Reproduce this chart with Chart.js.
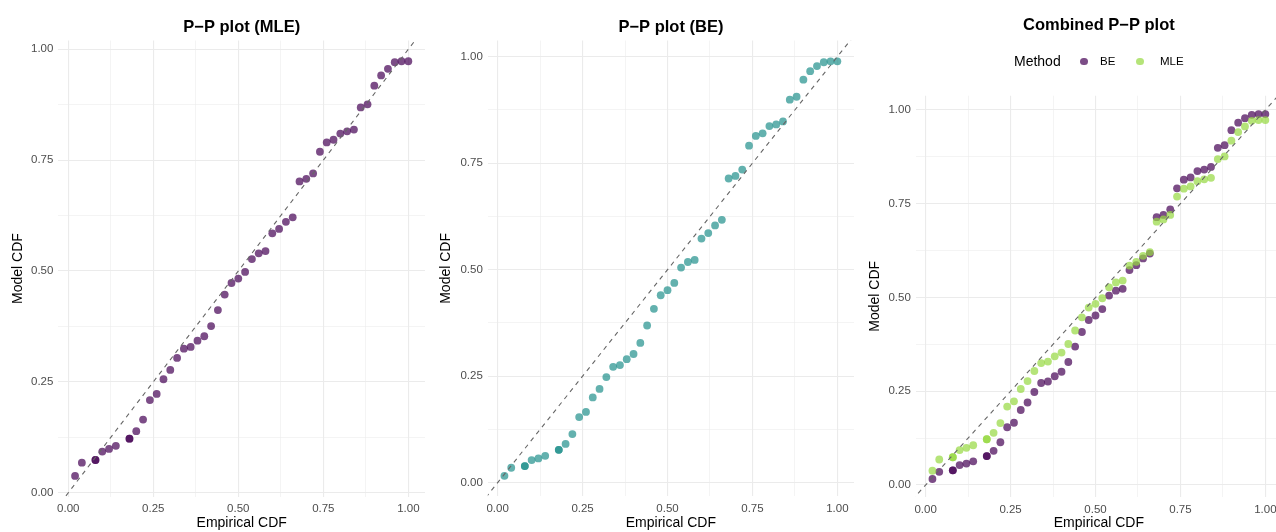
<!DOCTYPE html>
<html>
<head>
<meta charset="utf-8">
<script src="https://cdn.jsdelivr.net/npm/chart.js@4.4.1/dist/chart.umd.min.js"></script>
<style>
  html, body { margin: 0; padding: 0; background: #fff; width: 1276px; height: 532px; overflow: hidden; }
  .panel { position: absolute; top: 0; }
  .lg { position: absolute; font-family: "Liberation Sans", Arial, sans-serif; color: #000; white-space: nowrap; }
  .dot { position: absolute; width: 7.8px; height: 7.8px; border-radius: 50%; }
</style>
</head>
<body>
<canvas id="mle" class="panel" width="430" height="532" style="left:0px"></canvas>
<canvas id="be" class="panel" width="430" height="532" style="left:430px"></canvas>
<canvas id="both" class="panel" width="430" height="532" style="left:860px"></canvas>

<div class="lg" style="left:1014px;top:53px;font-size:14px">Method</div>
<div class="dot" style="left:1080px;top:57.5px;background:rgba(68,1,84,0.7)"></div>
<div class="lg" style="left:1100px;top:54.5px;font-size:11.5px">BE</div>
<div class="dot" style="left:1136px;top:57.5px;background:rgba(149,216,64,0.7)"></div>
<div class="lg" style="left:1160px;top:54.5px;font-size:11.5px">MLE</div>

<script>
// empirical CDF (50 obs, ties at 0.08 and 0.18)
const empiricalCdf = [0.02, 0.04, 0.08, 0.08, 0.10, 0.12, 0.14, 0.18, 0.18, 0.20,
  0.22, 0.24, 0.26, 0.28, 0.30, 0.32, 0.34, 0.36, 0.38, 0.40,
  0.42, 0.44, 0.46, 0.48, 0.50, 0.52, 0.54, 0.56, 0.58, 0.60,
  0.62, 0.64, 0.66, 0.68, 0.70, 0.72, 0.74, 0.76, 0.78, 0.80,
  0.82, 0.84, 0.86, 0.88, 0.90, 0.92, 0.94, 0.96, 0.98, 1.00];

const mleCdf = [0.038, 0.068, 0.074, 0.074, 0.093, 0.099, 0.106, 0.122, 0.122, 0.139,
  0.165, 0.209, 0.223, 0.256, 0.277, 0.304, 0.325, 0.329, 0.343, 0.353,
  0.376, 0.412, 0.447, 0.473, 0.483, 0.498, 0.527, 0.540, 0.545, 0.585,
  0.595, 0.611, 0.621, 0.702, 0.708, 0.720, 0.769, 0.790, 0.796, 0.810,
  0.815, 0.819, 0.869, 0.876, 0.918, 0.941, 0.956, 0.971, 0.973, 0.973];

const beCdf = [0.016, 0.035, 0.039, 0.039, 0.053, 0.057, 0.063, 0.077, 0.077, 0.091,
  0.114, 0.154, 0.166, 0.200, 0.220, 0.248, 0.272, 0.276, 0.290, 0.302,
  0.328, 0.369, 0.408, 0.440, 0.452, 0.469, 0.505, 0.518, 0.523, 0.573,
  0.586, 0.604, 0.617, 0.714, 0.720, 0.735, 0.791, 0.814, 0.820, 0.837,
  0.841, 0.848, 0.899, 0.906, 0.946, 0.966, 0.978, 0.987, 0.989, 0.989];

const refLine = [-0.2, 1.2];   // y = x
const majorTicks = [0, 0.25, 0.5, 0.75, 1];
const minorTicks = [0.125, 0.375, 0.625, 0.875];

const FONT = '"Liberation Sans", Arial, sans-serif';
const purple = 'rgba(68,1,84,0.7)';
const teal = 'rgba(33,144,140,0.7)';
const green = 'rgba(149,216,64,0.7)';

const allTicks = majorTicks.concat(minorTicks).sort((a, b) => a - b);

function pts(ys) {
  return empiricalCdf.map((x, i) => ({x: x, y: ys[i]}));
}

function axis(isX, title, min, max, size, titlePad) {
  return {
    type: 'linear',
    min: min,
    max: max,
    border: {display: false},
    grid: {
      drawTicks: false,
      color: '#EBEBEB',
      lineWidth: c => majorTicks.includes(c.tick.value) ? 1.1 : 0.55
    },
    afterBuildTicks: s => { s.ticks = allTicks.map(v => ({value: v})); },
    afterFit: s => { if (isX) s.height = size; else s.width = size; },
    ticks: {
      autoSkip: false,
      maxRotation: 0,
      padding: isX ? 5.5 : 5,
      color: '#4D4D4D',
      font: {family: FONT, size: 11.5},
      callback: v => majorTicks.includes(v) ? v.toFixed(2) : ''
    },
    title: {
      display: true,
      text: title,
      color: '#000',
      font: {family: FONT, size: 14},
      padding: isX ? {top: 0, bottom: 0} : {top: titlePad, bottom: 0}
    }
  };
}

function dashLine() {
  return {
    type: 'line',
    data: refLine.map(v => ({x: v, y: v})),
    borderColor: '#666666',
    borderWidth: 1.1,
    borderDash: [4.5, 4.5],
    pointRadius: 0,
    order: 0
  };
}

function dots(ys, color, order) {
  return {
    data: pts(ys),
    backgroundColor: color,
    borderWidth: 0,
    pointRadius: 3.9,
    pointHoverRadius: 3.9,
    order: order
  };
}

function makePanel(id, cfg) {
  return new Chart(document.getElementById(id), {
    type: 'scatter',
    data: {datasets: cfg.datasets},
    options: {
      responsive: false,
      animation: false,
      devicePixelRatio: 1,
      layout: {padding: {left: 0, right: cfg.right, top: 0, bottom: 0}},
      plugins: {
        legend: {display: false},
        tooltip: {enabled: false},
        title: {
          display: true,
          text: cfg.title,
          fullSize: false,
          color: '#000',
          font: {family: FONT, size: 16.5, weight: 'bold'},
          padding: {top: cfg.titleTop, bottom: cfg.titleBottom}
        }
      },
      scales: {
        x: axis(true, 'Empirical CDF', -0.029, 1.049, cfg.xh, 0),
        y: axis(false, 'Model CDF', cfg.ymin, cfg.ymax, cfg.yw, cfg.ytp)
      }
    }
  });
}

makePanel('mle', {
  title: 'P\u2212P plot (MLE)',
  datasets: [dashLine(), dots(mleCdf, purple, 1)],
  right: 5, titleTop: 17.4, titleBottom: 3.3,
  xh: 35.3, yw: 58.4, ytp: 10,
  ymin: -0.0088, ymax: 1.0198
});

makePanel('be', {
  title: 'P\u2212P plot (BE)',
  datasets: [dashLine(), dots(beCdf, teal, 1)],
  right: 6, titleTop: 17.4, titleBottom: 3.3,
  xh: 35.7, yw: 57.8, ytp: 7.6,
  ymin: -0.032, ymax: 1.038
});

makePanel('both', {
  title: 'Combined P\u2212P plot',
  datasets: [dashLine(), dots(mleCdf, green, 1), dots(beCdf, purple, 2)],
  right: 8, titleTop: 15.4, titleBottom: 60.5,
  xh: 35, yw: 55.8, ytp: 6.6,
  ymin: -0.032, ymax: 1.038
});
</script>
</body>
</html>
